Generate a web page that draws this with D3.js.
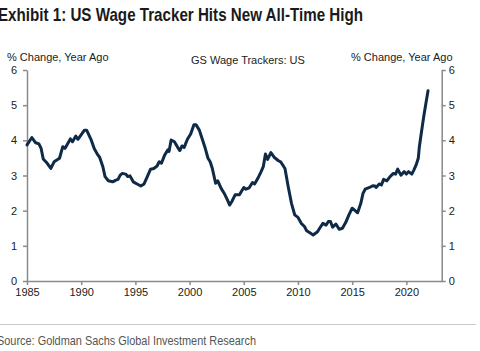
<!DOCTYPE html>
<html>
<head>
<meta charset="utf-8">
<script src="https://cdn.jsdelivr.net/npm/d3@7"></script>
<style>
  html, body { margin: 0; padding: 0; background: #fff; }
  svg { display: block; }
</style>
</head>
<body>
<svg id="chart"></svg>
<script>
// data (decimal year, % change y/y)
var years = [
  1985.0, 1985.45, 1985.8, 1986.1, 1986.3, 1986.5, 1986.8, 1987.2, 1987.5, 1988.0,
  1988.3, 1988.5, 1989.0, 1989.2, 1989.5, 1989.7, 1990.3, 1990.5, 1990.9, 1991.2,
  1991.5, 1991.7, 1992.0, 1992.2, 1992.5, 1992.9, 1993.2, 1993.4, 1993.6, 1993.8,
  1994.1, 1994.3, 1994.5, 1994.8, 1995.2, 1995.5, 1995.8, 1996.1, 1996.4, 1996.7,
  1997.0, 1997.2, 1997.4, 1997.7, 1998.0, 1998.1, 1998.3, 1998.6, 1998.9, 1999.1,
  1999.3, 1999.5, 1999.8, 2000.1, 2000.4, 2000.6, 2000.9, 2001.1, 2001.4, 2001.7,
  2001.9, 2002.1, 2002.4, 2002.6, 2002.9, 2003.2, 2003.5, 2003.7, 2003.9, 2004.2,
  2004.6, 2005.0, 2005.2, 2005.5, 2005.8, 2006.0, 2006.3, 2006.6, 2006.8, 2007.0,
  2007.2, 2007.5, 2007.8, 2008.2, 2008.4, 2008.8, 2009.1, 2009.4, 2009.7, 2010.0,
  2010.3, 2010.6, 2010.8, 2011.1, 2011.4, 2011.8, 2012.0, 2012.3, 2012.6, 2012.8,
  2013.0, 2013.2, 2013.5, 2013.8, 2014.1, 2014.4, 2014.7, 2015.0, 2015.2, 2015.5,
  2015.8, 2016.0, 2016.2, 2016.6, 2016.9, 2017.1, 2017.2, 2017.5, 2017.7, 2017.9,
  2018.2, 2018.5, 2018.8, 2019.0, 2019.2, 2019.5, 2019.8, 2020.0, 2020.2, 2020.5,
  2020.7, 2020.9, 2021.1, 2021.2, 2021.4, 2021.6, 2021.8, 2022.0
];
var wages = [
  3.87, 4.08, 3.93, 3.90, 3.77, 3.47, 3.37, 3.20, 3.39, 3.49,
  3.82, 3.77, 4.04, 3.96, 4.12, 4.03, 4.29, 4.29, 4.03, 3.77,
  3.60, 3.52, 3.25, 2.97, 2.85, 2.82, 2.87, 2.89, 3.01, 3.06,
  3.04, 2.97, 2.99, 2.82, 2.75, 2.70, 2.76, 2.97, 3.18, 3.20,
  3.27, 3.39, 3.35, 3.58, 3.73, 3.68, 4.01, 3.96, 3.80, 3.71,
  3.84, 3.80, 4.03, 4.18, 4.44, 4.44, 4.29, 4.10, 3.82, 3.49,
  3.39, 3.20, 2.78, 2.85, 2.64, 2.49, 2.30, 2.16, 2.26, 2.45,
  2.45, 2.66, 2.61, 2.65, 2.80, 2.76, 2.92, 3.11, 3.25, 3.61,
  3.46, 3.65, 3.52, 3.42, 3.39, 3.20, 2.68, 2.21, 1.88, 1.81,
  1.64, 1.55, 1.43, 1.37, 1.31, 1.40, 1.50, 1.64, 1.59, 1.69,
  1.69, 1.53, 1.62, 1.47, 1.50, 1.66, 1.88, 2.07, 2.02, 1.94,
  2.21, 2.49, 2.61, 2.66, 2.71, 2.70, 2.66, 2.76, 2.73, 2.89,
  2.85, 2.97, 3.06, 3.04, 3.18, 3.01, 3.11, 3.04, 3.11, 3.04,
  3.16, 3.30, 3.49, 3.82, 4.25, 4.67, 5.05, 5.41
];
var xTicks = [1985, 1990, 1995, 2000, 2005, 2010, 2015, 2020];
var yTicks = [0, 1, 2, 3, 4, 5, 6];

var W = 480, H = 351;
var plotLeft = 27, plotRight = 441.7, plotTop = 70, plotBottom = 281;
var axisColor = "#8a8a8a";
var lineColor = "#0e2a47";
var labelFont = "'Liberation Sans', Arial, sans-serif";

var svg = d3.select("#chart").attr("width", W).attr("height", H);

// titles (condensed face squeezed to the reference width)
svg.append("text")
  .attr("x", -2).attr("y", 21)
  .attr("font-family", labelFont)
  .attr("font-weight", "bold")
  .attr("font-size", 18.5)
  .attr("fill", "#1a1a1a")
  .attr("textLength", 365)
  .attr("lengthAdjust", "spacingAndGlyphs")
  .text("Exhibit 1: US Wage Tracker Hits New All-Time High");

svg.append("text")
  .attr("x", 7).attr("y", 61)
  .attr("font-family", labelFont).attr("font-size", 11).attr("fill", "#222")
  .text("% Change, Year Ago");
svg.append("text")
  .attr("x", 351).attr("y", 61)
  .attr("font-family", labelFont).attr("font-size", 11).attr("fill", "#222")
  .text("% Change, Year Ago");
svg.append("text")
  .attr("x", 191).attr("y", 64)
  .attr("font-family", labelFont).attr("font-size", 11).attr("fill", "#222")
  .text("GS Wage Trackers: US");

// scales
var x = d3.scaleLinear().domain([1985, 2023.26]).range([plotLeft, plotRight]);
var y = d3.scaleLinear().domain([0, 6]).range([plotBottom, plotTop]);

function styleAxis(g) {
  g.selectAll(".domain").attr("stroke", axisColor).attr("stroke-width", 1.5);
  g.selectAll(".tick line").attr("stroke", axisColor).attr("stroke-width", 1.5);
  g.selectAll(".tick text")
    .attr("font-family", labelFont).attr("font-size", 11).attr("fill", "#222");
}

svg.append("g")
  .attr("transform", "translate(" + plotLeft + ",0)")
  .call(d3.axisLeft(y).tickValues(yTicks).tickFormat(d3.format("d"))
    .tickSize(4).tickSizeOuter(0).tickPadding(6))
  .call(styleAxis);

svg.append("g")
  .attr("transform", "translate(" + plotRight + ",0)")
  .call(d3.axisRight(y).tickValues(yTicks).tickFormat(d3.format("d"))
    .tickSize(4).tickSizeOuter(0).tickPadding(3))
  .call(styleAxis);

svg.append("g")
  .attr("transform", "translate(0," + plotBottom + ")")
  .call(d3.axisBottom(x).tickValues(xTicks).tickFormat(d3.format("d"))
    .tickSize(4).tickSizeOuter(0).tickPadding(3))
  .call(styleAxis);

// series
var line = d3.line()
  .x(function(d, i) { return x(years[i]); })
  .y(function(d) { return y(d); });

svg.append("path")
  .datum(wages)
  .attr("fill", "none")
  .attr("stroke", lineColor)
  .attr("stroke-width", 3)
  .attr("stroke-linejoin", "round")
  .attr("stroke-linecap", "round")
  .attr("d", line);

// footer
svg.append("line")
  .attr("x1", 0).attr("x2", 476).attr("y1", 324.5).attr("y2", 324.5)
  .attr("stroke", "#c8c8c8").attr("stroke-width", 1);

svg.append("text")
  .attr("x", -3).attr("y", 345)
  .attr("font-family", labelFont)
  .attr("font-size", 13.5)
  .attr("fill", "#555")
  .attr("textLength", 259)
  .attr("lengthAdjust", "spacingAndGlyphs")
  .text("Source: Goldman Sachs Global Investment Research");
</script>
</body>
</html>
